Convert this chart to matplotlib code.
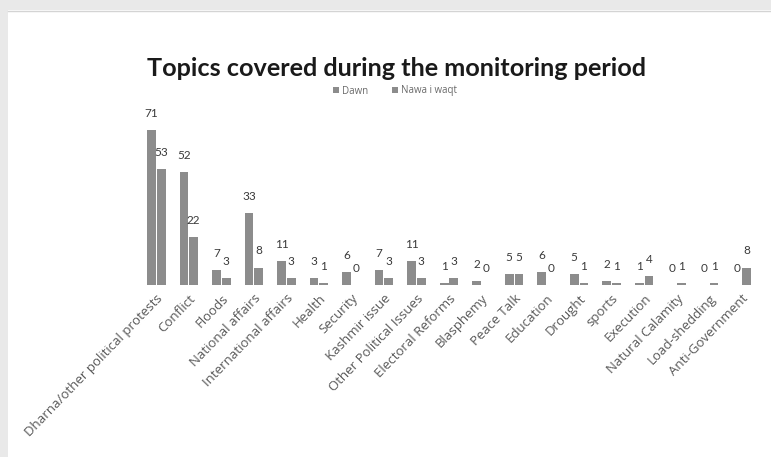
import numpy as np
import matplotlib
matplotlib.use("Agg")
import matplotlib.pyplot as plt
from matplotlib.patches import Rectangle, Patch

topics = [
    "Dharna/other political protests", "Conflict", "Floods", "National affairs",
    "International affairs", "Health", "Security", "Kashmir issue",
    "Other Political Issues", "Electoral Reforms", "Blasphemy", "Peace Talk",
    "Education", "Drought", "sports", "Execution", "Natural Calamity",
    "Load-shedding", "Anti-Government",
]
dawn = [71, 52, 7, 33, 11, 3, 6, 7, 11, 1, 2, 5, 6, 5, 2, 1, 0, 0, 0]
nawa_i_waqt = [53, 22, 3, 8, 3, 1, 0, 3, 3, 3, 0, 5, 0, 1, 1, 4, 1, 1, 8]
series_names = ["Dawn", "Nawa i waqt"]

W, H = 771, 457
fig = plt.figure(figsize=(W / 100, H / 100), dpi=100, facecolor="white")

# slide frame: light grey margin on the left and top
fig.patches.append(Rectangle((0, 0), 8 / W, 1, transform=fig.transFigure,
                             facecolor="#e9e9e9", edgecolor="none", zorder=0))
fig.patches.append(Rectangle((0, 1 - 10 / H), 1, 10 / H, transform=fig.transFigure,
                             facecolor="#e9e9e9", edgecolor="none", zorder=0))
fig.lines.append(plt.Line2D([8 / W, 1], [1 - 11 / H, 1 - 11 / H], transform=fig.transFigure,
                            color="#d4d4d4", lw=1.0))

left, right, bottom, top = 140, 758, 285, 110.6
ax = fig.add_axes([left / W, 1 - bottom / H, (right - left) / W, (bottom - top) / H])
ax.set_facecolor("none")

x = np.arange(len(topics))
bw = 0.27
off = 0.15
bar_color = "#8c8c8c"
ax.bar(x - off, dawn, width=bw, color=bar_color)
ax.bar(x + off, nawa_i_waqt, width=bw, color=bar_color)

label_font = dict(family="Lato", fontsize=8.5, color="#3a3a3a")
for xi, v in zip(x - off, dawn):
    ax.annotate(str(v), (xi, v), xytext=(0, 8), textcoords="offset points",
                ha="center", va="bottom", **label_font)
for xi, v in zip(x + off, nawa_i_waqt):
    ax.annotate(str(v), (xi, v), xytext=(0, 8), textcoords="offset points",
                ha="center", va="bottom", **label_font)

ax.set_xlim(-0.5, len(topics) - 0.5)
ax.set_ylim(0, 80)
ax.set_yticks([])
ax.set_xticks(x)
ax.set_xticklabels(topics, rotation=46, ha="right", rotation_mode="anchor",
                   family="Open Sans", fontsize=9.5, color="#595959")
ax.tick_params(axis="x", length=0, pad=5)
for s in ax.spines.values():
    s.set_visible(False)

fig.text(397 / W, 1 - 69 / H, "Topics covered during the monitoring period",
         ha="center", va="center", family="Lato", fontweight="bold",
         fontsize=18.2, color="#1a1a1a")

handles = [Patch(facecolor=bar_color, edgecolor="none") for _ in series_names]
fig.legend(handles, series_names, loc="center", bbox_to_anchor=(395 / W, 1 - 91 / H),
           ncol=2, frameon=False, prop=dict(family="Open Sans", size=7),
           labelcolor="#6a6a6a", handlelength=0.6, handleheight=0.6,
           handletextpad=0.3, columnspacing=2.5)

fig.savefig("out.png", dpi=100, facecolor="white")
